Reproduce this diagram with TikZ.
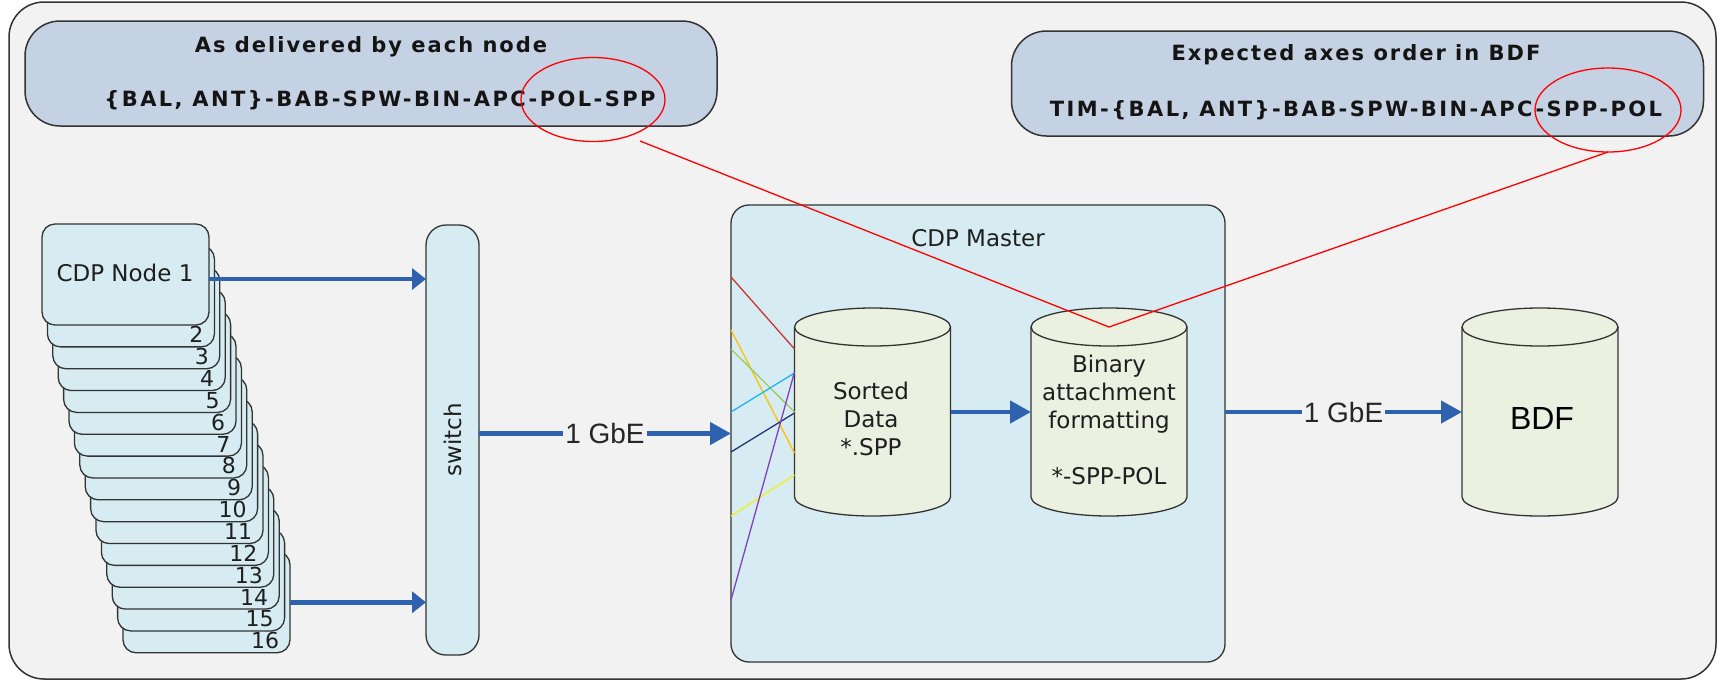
\documentclass[tikz,border=0pt]{standalone}
\usepackage{fontspec}
\setmainfont{DejaVu Sans}
\newfontfamily\arialfont{Liberation Sans}
\newfontfamily\boxfont[LetterSpace=9.5]{DejaVu Sans}
\newfontfamily\axesfont[LetterSpace=11.5]{DejaVu Sans}
\usetikzlibrary{arrows.meta,shapes.geometric}

\definecolor{bg}{RGB}{242,242,242}
\definecolor{edge}{RGB}{51,51,51}
\definecolor{boxblue}{RGB}{197,210,227}
\definecolor{lightcyan}{RGB}{214,236,242}
\definecolor{cylgreen}{RGB}{235,241,224}
\definecolor{arrowblue}{RGB}{46,98,174}
\definecolor{cred}{RGB}{204,51,51}
\definecolor{corange}{RGB}{255,192,0}
\definecolor{cgreen}{RGB}{155,205,100}
\definecolor{ccyan}{RGB}{30,180,240}
\definecolor{cnavy}{RGB}{31,56,110}
\definecolor{cyellow}{RGB}{240,240,30}
\definecolor{cpurple}{RGB}{128,64,192}

% cylinder drawn around an (invisible) body node
\newcommand\cylshape[1]{%
  \fill[cylgreen] (#1.north west) rectangle (#1.south east);
  \fill[cylgreen] (#1.south) ellipse [x radius=78pt, y radius=19pt];
  \draw[draw=edge, line width=1.3pt] (#1.north west) -- (#1.south west)
     arc[start angle=180, end angle=360, x radius=78pt, y radius=19pt] -- (#1.north east);
  \filldraw[fill=cylgreen, draw=edge, line width=1.3pt] (#1.north) ellipse [x radius=78pt, y radius=19pt];
}

\begin{document}
\begin{tikzpicture}[x=1pt,y=-1pt,
  every node/.style={inner sep=0pt, outer sep=0pt},
  topbox/.style={rectangle, fill=boxblue, draw=edge, line width=1.5pt, rounded corners=35pt,
    minimum width=692pt, minimum height=105pt},
  cdpbox/.style={rectangle, fill=lightcyan, draw=edge, line width=1.3pt, rounded corners=13pt,
    minimum width=167pt, minimum height=101pt},
  switchbox/.style={rectangle, fill=lightcyan, draw=edge, line width=1.3pt, rounded corners=20pt,
    minimum width=53pt, minimum height=430pt},
  masterbox/.style={rectangle, fill=lightcyan, draw=edge, line width=1.3pt, rounded corners=18pt,
    minimum width=494pt, minimum height=457pt},
  cylbody/.style={rectangle, minimum width=156pt, minimum height=170pt},
  txt/.style={font=\fontsize{23}{28}\selectfont, text=black!88},
  numlabel/.style={font=\fontsize{22}{26}\selectfont, text=black!88, anchor=base east},
  boxtxt/.style={anchor=base, font=\boxfont\bfseries\fontsize{21}{25}\selectfont, text=black!92},
  axestxt/.style={anchor=base, font=\axesfont\bfseries\fontsize{21}{25}\selectfont, text=black!92},
  gbe/.style={font=\arialfont\fontsize{28}{32}\selectfont, fill=bg, inner xsep=2pt, text=black!85},
  bluearrow/.style={draw=arrowblue, line width=4.5pt, -{Triangle[length=21pt,width=22pt]}},
  smallarrow/.style={draw=arrowblue, line width=4.5pt, -{Triangle[length=14pt,width=21pt]}},
  feed/.style={line width=1.3pt},
  redline/.style={draw=red, line width=1.3pt},
  ring/.style={ellipse, draw=red, line width=1.3pt, minimum width=144pt, minimum height=84pt}]

\useasboundingbox (0,0) rectangle (1719,681);

% outer frame
\draw[fill=bg, draw=edge, line width=1.5pt, rounded corners=35pt] (9,2) rectangle (1716,679);

% axis-order boxes
\node[topbox] (delivered) at (371,73.5) {};
\node[boxtxt] (deltitle) at (371,52.7) {As delivered by each node};
\node[axestxt] (delaxes) at (380,106.7) {\{BAL, ANT\}-BAB-SPW-BIN-APC-POL-SPP};

\node[topbox] (expected) at (1357.5,83.5) {};
\node[boxtxt] (exptitle) at (1356,60.7) {Expected axes order in BDF};
\node[axestxt] (expaxes) at (1356,116.7) {TIM-\{BAL, ANT\}-BAB-SPW-BIN-APC-SPP-POL};

% stack of CDP nodes, back to front
\foreach \k in {16,15,...,1}{
  \pgfmathsetmacro\cx{125.5+(\k-1)*5.4}
  \pgfmathsetmacro\cy{274.5+(\k-1)*21.85}
  \node[cdpbox] (n\k) at (\cx,\cy) {};
  \ifnum\k>1
    \node[numlabel] (num\k) at ([xshift=-11pt,yshift=4pt]n\k.south east) {\k};
  \fi
}
\node[txt, anchor=base] (n1label) at (125,281.4) {CDP Node 1};

% switch
\node[switchbox] (sw) at (452.5,440) {};
\node[txt, rotate=90] (swlabel) at (sw.center) {switch};

% CDP master
\node[masterbox] (master) at (978,433.5) {};
\node[txt, anchor=base] (mlabel) at (978,246.4) {CDP Master};

\node[cylbody] (sorted) at (872.5,412) {};
\cylshape{sorted}
\node[txt, align=center] (sortedtext) at (871,419) {Sorted\\Data\\*.SPP};

\node[cylbody] (binary) at (1109,412) {};
\cylshape{binary}
\node[txt, align=center] (binarytext) at (1109,420) {Binary\\attachment\\formatting\\[28pt]*-SPP-POL};

% BDF store
\node[cylbody] (bdf) at (1540,412) {};
\cylshape{bdf}
\node[font=\arialfont\fontsize{32}{36}\selectfont, text=black] (bdftext) at (1542,418) {BDF};

% per-node feeds into the sorter
\draw[feed, draw=cred]    (master.west |- 0,277) -- (sorted.west |- 0,349);
\draw[feed, draw=corange] (master.west |- 0,330) -- (sorted.west |- 0,453);
\draw[feed, draw=cgreen]  (master.west |- 0,349) -- (sorted.west |- 0,412);
\draw[feed, draw=ccyan]   (master.west |- 0,412) -- (sorted.west |- 0,373);
\draw[feed, draw=cnavy]   (master.west |- 0,452) -- (sorted.west |- 0,413);
\draw[feed, draw=cyellow] (master.west |- 0,516) -- (sorted.west |- 0,475);
\draw[feed, draw=cpurple] (master.west |- 0,600) -- (sorted.west |- 0,372);

% data flow
\coordinate (p1) at ([yshift=-4.5pt]n1.east);
\draw[smallarrow] (p1) -- (p1 -| sw.west);
\draw[smallarrow] (n16.east) -- (n16.east -| sw.west);
\draw[bluearrow] (sw.east |- master.west) -- (master.west) node[gbe, midway] (gbe1) {1 GbE};
\draw[bluearrow] (sorted.east) -- (binary.west);
\draw[bluearrow] (master.east |- bdf.west) -- (bdf.west) node[gbe, midway] (gbe2) {1 GbE};

% highlighted axes and their reordering
\node[ring] (ring1) at (593,99.5) {};
\node[ring, minimum width=146pt] (ring2) at (1608,110) {};
\coordinate (r1) at (640,141);
\draw[redline] (r1) -- (binary.north) -- (ring2.south);

\end{tikzpicture}
\end{document}
